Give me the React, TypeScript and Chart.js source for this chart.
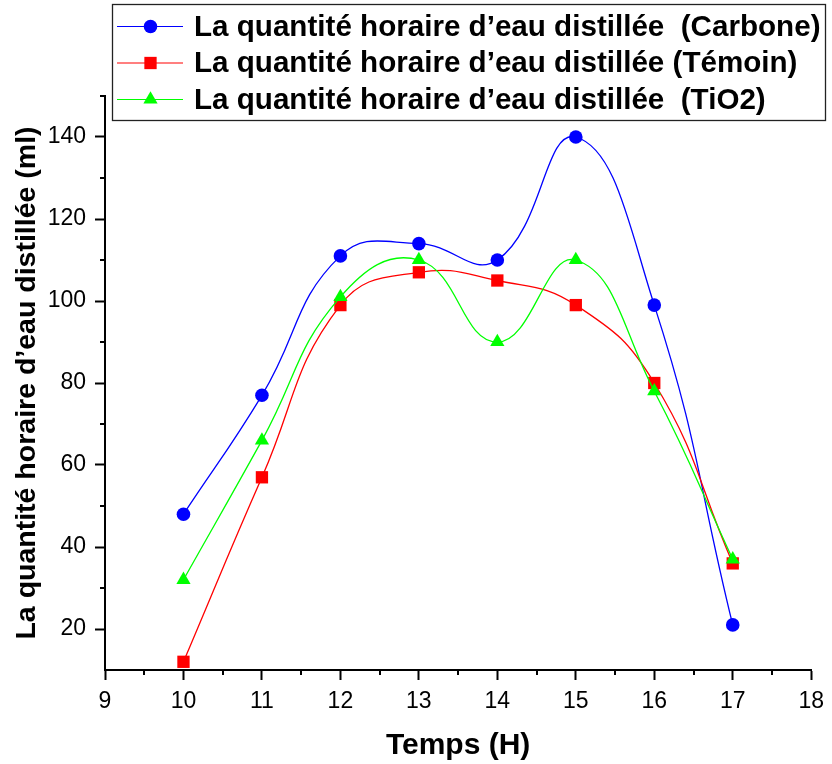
import React, { useEffect, useRef } from "react";
import { Chart, registerables } from "chart.js";

Chart.register(...registerables);

// Hours of the day
const HOURS = [10, 11, 12, 13, 14, 15, 16, 17];

// Hourly distilled water (ml) per configuration
const CARBONE = [48, 77, 111, 114, 110, 140, 99, 21];
const TEMOIN = [12, 57, 99, 107, 105, 99, 80, 36];
const TIO2 = [32, 66, 101, 110, 90, 110, 78, 37];

const LABELS = [
  "La quantité horaire d’eau distillée  (Carbone)",
  "La quantité horaire d’eau distillée (Témoin)",
  "La quantité horaire d’eau distillée  (TiO2)",
];

const X_TITLE = "Temps (H)";
const Y_TITLE = "La quantité horaire d’eau distillée (ml)";

const Y_TICKS = [20, 40, 60, 80, 100, 120, 140];
const Y_MINOR = [30, 50, 70, 90, 110, 130, 150];
const X_MINOR = [9.5, 10.5, 11.5, 12.5, 13.5, 14.5, 15.5, 16.5, 17.5];

const FONT = "'Liberation Sans', Arial, sans-serif";

type Marker = "circle" | "rect" | "triangle";

function drawMarker(ctx: CanvasRenderingContext2D, kind: Marker, x: number, y: number, r: number) {
  ctx.beginPath();
  if (kind === "circle") {
    ctx.arc(x, y, r, 0, Math.PI * 2);
  } else if (kind === "rect") {
    const s = Math.SQRT1_2 * r;
    ctx.rect(x - s, y - s, 2 * s, 2 * s);
  } else {
    const h = Math.sin(Math.PI / 3) * r;
    ctx.moveTo(x, y - r);
    ctx.lineTo(x - h, y + r / 2);
    ctx.lineTo(x + h, y + r / 2);
    ctx.closePath();
  }
  ctx.fill();
}

// Short ticks between the labelled ones
const minorTicks = {
  id: "minorTicks",
  afterDraw(chart: any) {
    const { ctx, scales } = chart;
    const xs = scales.x;
    const ys = scales.y;
    ctx.save();
    ctx.strokeStyle = "#000";
    ctx.lineWidth = 2;
    ctx.beginPath();
    X_MINOR.forEach((v) => {
      const px = Math.round(xs.getPixelForValue(v));
      ctx.moveTo(px, xs.top);
      ctx.lineTo(px, xs.top + 5);
    });
    Y_MINOR.forEach((v) => {
      const py = Math.round(ys.getPixelForValue(v));
      ctx.moveTo(ys.right, py);
      ctx.lineTo(ys.right - 5, py);
    });
    ctx.stroke();
    ctx.restore();
  },
};

// Boxed legend sitting over the top of the plot
const boxLegend = {
  id: "boxLegend",
  afterDraw(chart: any) {
    const ctx: CanvasRenderingContext2D = chart.ctx;
    const left = 112.5;
    const top = 4.5;
    const w = 713;
    const h = 116;
    const rows = [26.5, 63, 99.5];
    ctx.save();
    ctx.fillStyle = "#fff";
    ctx.fillRect(left, top, w, h);
    ctx.strokeStyle = "#222";
    ctx.lineWidth = 1.3;
    ctx.strokeRect(left, top, w, h);
    chart.data.datasets.forEach((ds: any, i: number) => {
      const y = rows[i];
      ctx.strokeStyle = ds.borderColor;
      ctx.lineWidth = 1.2;
      ctx.beginPath();
      ctx.moveTo(117, y);
      ctx.lineTo(183, y);
      ctx.stroke();
      ctx.fillStyle = ds.backgroundColor;
      drawMarker(ctx, ds.pointStyle, 150.5, y, ds.pointRadius);
      ctx.fillStyle = "#000";
      ctx.font = `bold 29.6px ${FONT}`;
      ctx.textBaseline = "middle";
      ctx.textAlign = "left";
      ctx.fillText(ds.label, 194, y + 1);
    });
    ctx.restore();
  },
};

export default function App() {
  const ref = useRef<HTMLCanvasElement | null>(null);

  useEffect(() => {
    document.body.style.margin = "0";
    const canvas = ref.current;
    if (!canvas) return;

    const series = [
      { data: CARBONE, color: "#0000ff", style: "circle", r: 6.8, order: 3 },
      { data: TEMOIN, color: "#ff0000", style: "rect", r: 8.7, order: 2 },
      { data: TIO2, color: "#00ff00", style: "triangle", r: 8.2, order: 1 },
    ];

    const chart = new Chart(canvas, {
      type: "line",
      data: {
        datasets: series.map((s, i) => ({
          label: LABELS[i],
          data: HOURS.map((h, j) => ({ x: h, y: s.data[j] })),
          order: s.order,
          borderColor: s.color,
          backgroundColor: s.color,
          borderWidth: 1.3,
          pointStyle: s.style as any,
          pointRadius: s.r,
          pointBorderWidth: 0,
          pointBackgroundColor: s.color,
          tension: 0.45,
          fill: false,
          clip: false as any,
        })),
      },
      options: {
        animation: false,
        responsive: false,
        devicePixelRatio: 1,
        layout: { padding: { left: 10, right: 16, top: 96, bottom: 0 } },
        plugins: {
          legend: { display: false },
          tooltip: { enabled: false },
        },
        scales: {
          x: {
            type: "linear",
            min: 9,
            max: 18,
            ticks: {
              stepSize: 1,
              color: "#000",
              font: { family: FONT, size: 23 },
              padding: 8,
            },
            grid: {
              display: true,
              drawOnChartArea: false,
              drawTicks: true,
              tickLength: 10,
              tickWidth: 2,
              tickColor: "#000",
            },
            border: { display: true, color: "#000", width: 2 },
            title: {
              display: true,
              text: X_TITLE,
              color: "#000",
              font: { family: FONT, size: 30, weight: "bold" },
              padding: { top: 0, bottom: 0 },
            },
            afterFit(scale: any) {
              scale.height = 94;
            },
          },
          y: {
            type: "linear",
            min: 10,
            max: 150,
            ticks: {
              color: "#000",
              font: { family: FONT, size: 23 },
              padding: 9,
            },
            afterBuildTicks(scale: any) {
              scale.ticks = Y_TICKS.map((v) => ({ value: v }));
            },
            grid: {
              display: true,
              drawOnChartArea: false,
              drawTicks: true,
              tickLength: 10,
              tickWidth: 2,
              tickColor: "#000",
            },
            border: { display: true, color: "#000", width: 2 },
            title: {
              display: true,
              text: Y_TITLE,
              color: "#000",
              font: { family: FONT, size: 28.5, weight: "bold" },
              padding: { top: 0, bottom: 0 },
            },
            afterFit(scale: any) {
              scale.width = 95;
            },
          },
        },
      },
      plugins: [minorTicks, boxLegend],
    });

    return () => chart.destroy();
  }, []);

  return <canvas ref={ref} width={832} height={764} style={{ display: "block" }} />;
}
